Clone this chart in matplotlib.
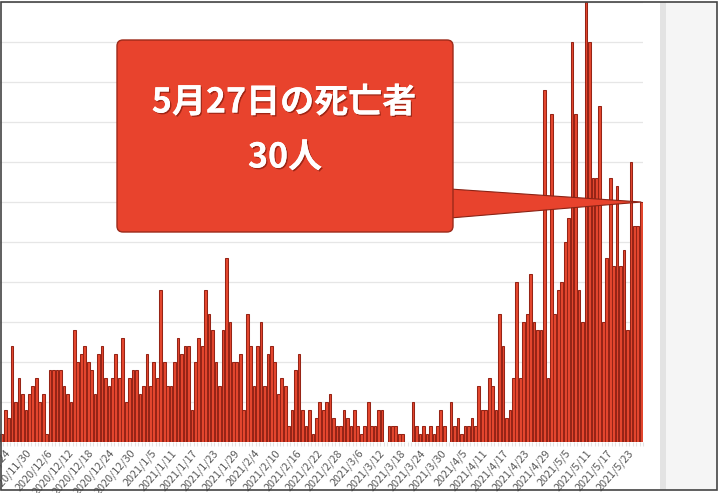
import matplotlib
matplotlib.use("Agg")
import matplotlib.pyplot as plt
import matplotlib.patheffects as pe
from matplotlib.patches import Rectangle, FancyBboxPatch, Polygon
import numpy as np
import pandas as pd

# ---- data ----
start_date = "2020-11-23"
deaths = [
    1, 4, 3, 12, 5, 8, 6, 4, 6, 7, 8, 5, 6, 1, 9, 9, 9, 9, 7, 6, 5, 14, 10, 11, 12,
    10, 9, 6, 11, 12, 8, 7, 8, 11, 8, 13,
    5, 8, 9, 9, 6, 7, 11, 7, 10, 8, 19, 10, 7, 7, 10, 13, 11, 12, 12, 4, 10, 13, 12,
    19, 16, 14, 10, 7, 14, 23, 15, 10, 10, 11, 4, 16, 12, 7,
    12, 15, 7, 11, 12, 10, 6, 8, 7, 2, 4, 9, 11, 4, 2, 4, 1, 3, 5, 4, 5, 6, 3, 2, 2,
    4, 3, 2, 4, 2, 1, 2, 5, 2, 2, 4,
    4, 0, 2, 2, 2, 1, 1, 0, 0, 5, 2, 1, 2, 1, 2, 1, 2, 4, 2, 0, 5, 2, 3, 1, 2, 2, 3,
    2, 7, 4, 4, 8, 7, 4,
    16, 12, 3, 4, 8, 20, 8, 15, 16, 21, 15, 14, 14, 44, 8, 41, 16, 19, 20, 25, 28,
    50, 41, 19, 15, 55, 50, 33, 33, 42, 15, 23, 33, 22, 32, 22, 24, 14, 35, 27, 27, 30,
]
dates = pd.date_range(start_date, periods=len(deaths), freq="D")
date_labels = [f"{d.year}/{d.month}/{d.day}" for d in dates]
label_step = 6
label_first = 1
callout_lines = ["5月27日の死亡者", "30人"]

# ---- figure ----
W, H = 720, 493
fig = plt.figure(figsize=(W / 100, H / 100), dpi=100)
fig.patch.set_facecolor("white")

ax = fig.add_axes([0 / W, (H - 442) / H, 643 / W, 440 / H])
x = np.arange(len(deaths))
vals = np.array(deaths)
ax.set_xlim(-0.38, len(deaths) - 0.5)
ax.set_ylim(0, 55)

ax.set_yticks(np.arange(0, 56, 5))
ax.yaxis.grid(True, color="#e6e6e6", lw=0.9)
ax.set_axisbelow(True)
ax.tick_params(axis="y", length=0, labelleft=False)
for s in ax.spines.values():
    s.set_visible(False)

edge = ["#962416" if v > 0 else "none" for v in vals]
ax.bar(x, vals, width=0.78, color="#E5472F", edgecolor=edge, linewidth=0.75, zorder=3)

tick_pos = x[label_first::label_step]
ax.set_xticks(tick_pos)
ax.set_xticklabels([date_labels[i] for i in tick_pos], rotation=49, ha="right",
                   va="top", rotation_mode="anchor", fontsize=7.8, color="#5a5a5a",
                   family=["Noto Sans CJK JP", "DejaVu Sans"])
ax.tick_params(axis="x", which="major", length=0, pad=4)
ax.set_xticks(np.arange(-0.5, len(deaths), 1), minor=True)
ax.tick_params(axis="x", which="minor", length=3, color="#e2e2e2", width=0.8)

# ---- overlay (pixel coordinates) ----
ov = fig.add_axes([0, 0, 1, 1], zorder=5)
ov.set_xlim(0, W)
ov.set_ylim(H, 0)
ov.axis("off")
ov.patch.set_alpha(0)

ov.add_patch(Rectangle((660, 2), 57, 488, facecolor="#f5f5f5", edgecolor="none"))
ov.add_patch(Rectangle((660, 2), 6, 488, facecolor="#e3e3e3", edgecolor="none"))
ov.add_patch(Rectangle((1, 2), 716, 488, fill=False, edgecolor="#444444", lw=1.2))

# callout pointing at last bar
fig.canvas.draw()
tip_disp = ax.transData.transform((x[-1], vals[-1]))
tip = ov.transData.inverted().transform(tip_disp)
callout_color = "#E8432D"
ov.add_patch(Polygon([(450, 189), (tip[0], tip[1]), (450, 218)], closed=True,
                     facecolor=callout_color, edgecolor="#8a2315", lw=0.8, zorder=2))
ov.add_patch(FancyBboxPatch((117, 40), 336, 192,
                            boxstyle="round,pad=0,rounding_size=6",
                            facecolor=callout_color, edgecolor="#9c2a1a", lw=1.0,
                            zorder=3))
shadow = [pe.withSimplePatchShadow(offset=(1, -1), shadow_rgbFace="#6e1408",
                                   alpha=0.6), pe.Normal()]
ov.text(284, 102, callout_lines[0], ha="center", va="center", fontsize=24.5,
        color="white", fontweight="bold", family=["Noto Sans CJK JP", "DejaVu Sans"],
        zorder=4, path_effects=shadow)
ov.text(285, 157, callout_lines[1], ha="center", va="center", fontsize=24.5,
        color="white", fontweight="bold", family=["Noto Sans CJK JP", "DejaVu Sans"],
        zorder=4, path_effects=shadow)

fig.savefig("out.png", dpi=100)
